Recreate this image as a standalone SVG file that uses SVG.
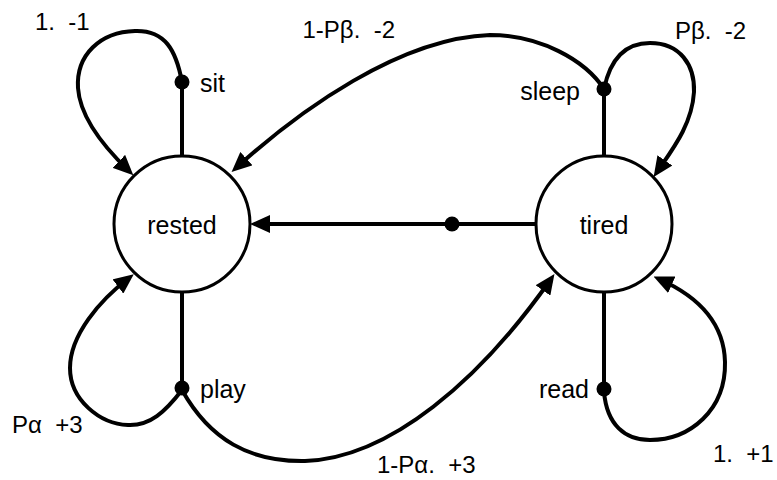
<svg xmlns="http://www.w3.org/2000/svg" width="777" height="480" viewBox="0 0 777 480">
<style>
  .node { fill: #fff; stroke: #000; stroke-width: 3; }
  .lbl { font-family: "Liberation Sans", Arial, sans-serif; font-size: 25px; fill: #000; }
  .elbl { font-family: "Liberation Sans", Arial, sans-serif; font-size: 24px; fill: #000; white-space: pre; }
  .edge { fill: none; stroke: #000; stroke-width: 4; }
  .arr { marker-end: url(#ah); }
  .dot { fill: #000; }
</style>
<defs>
  <marker id="ah" viewBox="0 0 20 18" refX="14" refY="9" markerWidth="20" markerHeight="18" markerUnits="userSpaceOnUse" orient="auto">
    <path d="M0,0 L20,9 L0,18 z" fill="#000"/>
  </marker>
</defs>
<rect width="777" height="480" fill="#fff"/>
<g id="connectors">
  <line class="edge" x1="182" y1="82" x2="182" y2="156"/>
  <line class="edge" x1="604" y1="89" x2="604" y2="156"/>
  <line class="edge" x1="182" y1="388" x2="182" y2="292"/>
  <line class="edge" x1="604" y1="389" x2="604" y2="292"/>
  <path class="edge arr" d="M536,224 L256,224"/>
  <path class="edge arr" d="M182,82 C176,50 165,30 135,31 C100,32 76,55 78,88 C80,118 105,148 129,171"/>
  <path class="edge arr" d="M604,89 C585,60 540,35 490,35 C400,38 300,110 236,168"/>
  <path class="edge arr" d="M604,89 C610,60 625,43 650,43 C680,43 695,65 694,92 C692,125 672,150 657,172"/>
  <path class="edge arr" d="M182,390 C165,412 150,426 128,425 C100,424 70,400 70,368 C70,335 100,300 129,278"/>
  <path class="edge arr" d="M182,390 C210,440 250,462 305,461 C390,458 480,380 551,279"/>
  <path class="edge arr" d="M604,392 C607,425 625,440 650,440 C690,440 726,410 725,362 C724,320 695,295 659,279"/>
  <circle class="dot" cx="182" cy="82" r="7.5"/>
  <circle class="dot" cx="604" cy="89" r="7.5"/>
  <circle class="dot" cx="182" cy="388" r="7.5"/>
  <circle class="dot" cx="604" cy="389" r="7.5"/>
  <circle class="dot" cx="452" cy="224" r="7.5"/>
  <text class="lbl" x="200" y="92">sit</text>
  <text class="lbl" x="580" y="100" text-anchor="end">sleep</text>
  <text class="lbl" x="200" y="398">play</text>
  <text class="lbl" x="589" y="398" text-anchor="end">read</text>
  <text class="elbl" x="35" y="30" xml:space="preserve">1.  -1</text>
  <text class="elbl" x="395" y="38" text-anchor="end" xml:space="preserve">1-Pβ.  -2</text>
  <text class="elbl" x="675" y="39" xml:space="preserve">Pβ.  -2</text>
  <text class="elbl" x="12" y="433" xml:space="preserve">Pα  +3</text>
  <text class="elbl" x="377" y="473" xml:space="preserve">1-Pα.  +3</text>
  <text class="elbl" x="713" y="462" xml:space="preserve">1.  +1</text>
</g>
<g id="rested">
  <circle class="node" cx="182" cy="224" r="68"/>
  <text class="lbl" x="182" y="234" text-anchor="middle">rested</text>
</g>
<g id="tired">
  <circle class="node" cx="604" cy="224" r="68"/>
  <text class="lbl" x="604" y="234" text-anchor="middle">tired</text>
</g>
</svg>
